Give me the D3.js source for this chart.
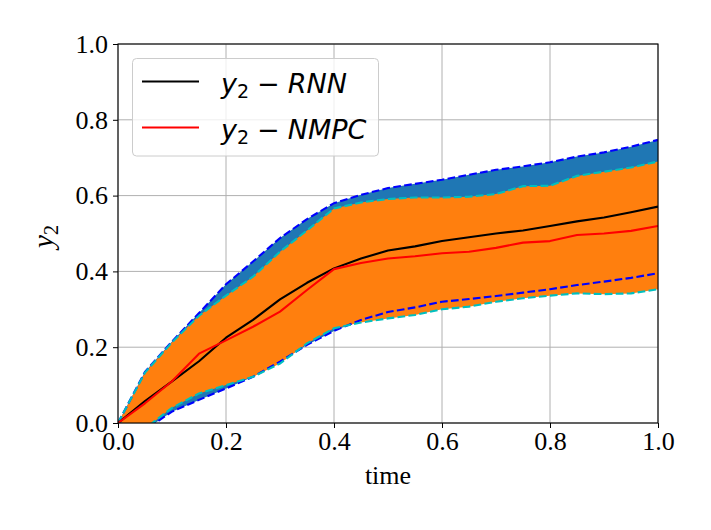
<!DOCTYPE html>
<html>
<head>
<meta charset="utf-8">
<script src="https://cdn.jsdelivr.net/npm/d3@7"></script>
<style>
  html, body { margin: 0; padding: 0; background: #fff; }
  svg { display: block; }
</style>
</head>
<body>
<svg id="chart" width="711" height="530"></svg>
<script>
// ---- data ----
const time = [0.0, 0.05, 0.1, 0.15, 0.2, 0.25, 0.3, 0.35, 0.4, 0.45, 0.5, 0.55, 0.6, 0.65, 0.7, 0.75, 0.8, 0.85, 0.9, 0.95, 1.0];
const rnnMean  = [0.0, 0.058, 0.11, 0.163, 0.225, 0.272, 0.326, 0.37, 0.408, 0.434, 0.455, 0.466, 0.48, 0.49, 0.5, 0.508, 0.52, 0.532, 0.542, 0.556, 0.571];
const nmpcMean = [0.0, 0.052, 0.11, 0.183, 0.218, 0.254, 0.294, 0.351, 0.406, 0.422, 0.434, 0.44, 0.448, 0.452, 0.462, 0.476, 0.48, 0.496, 0.5, 0.507, 0.52];
const rnnUpper  = [0.0, 0.135, 0.215, 0.29, 0.366, 0.426, 0.488, 0.538, 0.58, 0.602, 0.62, 0.631, 0.642, 0.655, 0.668, 0.677, 0.688, 0.703, 0.714, 0.729, 0.747];
const rnnLower  = [0.0, -0.018, 0.03, 0.061, 0.091, 0.122, 0.162, 0.206, 0.243, 0.272, 0.293, 0.305, 0.32, 0.327, 0.335, 0.344, 0.353, 0.364, 0.373, 0.383, 0.395];
const nmpcUpper = [0.0, 0.133, 0.213, 0.283, 0.336, 0.386, 0.452, 0.508, 0.566, 0.582, 0.591, 0.595, 0.595, 0.597, 0.604, 0.625, 0.626, 0.652, 0.663, 0.674, 0.69];
const nmpcLower = [0.0, -0.015, 0.04, 0.078, 0.1, 0.122, 0.157, 0.21, 0.25, 0.265, 0.276, 0.285, 0.3, 0.307, 0.32, 0.329, 0.336, 0.342, 0.34, 0.342, 0.353];
const xTicks = [0.0, 0.2, 0.4, 0.6, 0.8, 1.0];
const yTicks = [0.0, 0.2, 0.4, 0.6, 0.8, 1.0];

// ---- layout ----
const svg = d3.select("#chart");
const m = { left: 118, top: 44, right: 53, bottom: 107 };
const W = 711 - m.left - m.right;   // 540
const H = 530 - m.top - m.bottom;   // 379
const serif = "'Liberation Serif', 'Times New Roman', serif";

const x = d3.scaleLinear().domain([0, 1]).range([0, W]);
const y = d3.scaleLinear().domain([0, 1]).range([H, 0]);

const g = svg.append("g").attr("transform", `translate(${m.left},${m.top})`);

svg.append("defs").append("clipPath").attr("id", "clip")
  .append("rect").attr("x", 0).attr("y", 0).attr("width", W).attr("height", H);

// grid
const grid = g.append("g");
grid.selectAll(".gx").data(xTicks).enter().append("line")
  .attr("x1", d => x(d)).attr("x2", d => x(d)).attr("y1", 0).attr("y2", H)
  .attr("stroke", "#b0b0b0").attr("stroke-width", 1);
grid.selectAll(".gy").data(yTicks).enter().append("line")
  .attr("y1", d => y(d)).attr("y2", d => y(d)).attr("x1", 0).attr("x2", W)
  .attr("stroke", "#b0b0b0").attr("stroke-width", 1);

const plot = g.append("g").attr("clip-path", "url(#clip)");
const idx = d3.range(time.length);

const area = (lo, hi) => d3.area()
  .x(i => x(time[i])).y0(i => y(lo[i])).y1(i => y(hi[i]));
const line = (arr) => d3.line().x(i => x(time[i])).y(i => y(arr[i]));

plot.append("path").attr("d", area(rnnLower, rnnUpper)(idx)).attr("fill", "#1f77b4");
plot.append("path").attr("d", area(nmpcLower, nmpcUpper)(idx)).attr("fill", "#ff7f0e");

[[rnnUpper, "#0000ff"], [rnnLower, "#0000ff"], [nmpcUpper, "#00bfbf"], [nmpcLower, "#00bfbf"]]
  .forEach(([arr, c]) => {
    plot.append("path").attr("d", line(arr)(idx)).attr("fill", "none")
      .attr("stroke", c).attr("stroke-width", 2.1).attr("stroke-dasharray", "7.7,3.3");
  });

plot.append("path").attr("d", line(rnnMean)(idx)).attr("fill", "none")
  .attr("stroke", "#000").attr("stroke-width", 2.1).attr("stroke-linejoin", "round");
plot.append("path").attr("d", line(nmpcMean)(idx)).attr("fill", "none")
  .attr("stroke", "#ff0000").attr("stroke-width", 2.1).attr("stroke-linejoin", "round");

// axes
const xAxis = g.append("g").attr("transform", `translate(0,${H})`)
  .call(d3.axisBottom(x).tickValues(xTicks).tickFormat(d3.format(".1f")).tickSize(5).tickPadding(4));
const yAxis = g.append("g")
  .call(d3.axisLeft(y).tickValues(yTicks).tickFormat(d3.format(".1f")).tickSize(5).tickPadding(5));
[xAxis, yAxis].forEach(a => {
  a.select(".domain").remove();
  a.selectAll("line").attr("stroke", "#000").attr("stroke-width", 1);
  a.selectAll("text").attr("font-family", serif).attr("font-size", 26).attr("fill", "#000");
});

// frame
g.append("rect").attr("x", 0).attr("y", 0).attr("width", W).attr("height", H)
  .attr("fill", "none").attr("stroke", "#000").attr("stroke-width", 1.1);

// axis labels
svg.append("text").attr("x", m.left + W / 2).attr("y", 484)
  .attr("text-anchor", "middle").attr("font-family", serif).attr("font-size", 26)
  .text("time");
const yl = svg.append("text")
  .attr("transform", `translate(53,${m.top + H / 2 + 3}) rotate(-90)`)
  .attr("text-anchor", "middle").attr("font-family", serif).attr("font-size", 29);
yl.append("tspan").attr("font-style", "italic").text("y");
yl.append("tspan").attr("font-size", 20).attr("dy", 5).text("2");

// legend
const lg = svg.append("g");
lg.append("rect").attr("x", 132.5).attr("y", 58.5).attr("width", 246).attr("height", 97.5)
  .attr("rx", 4).attr("fill", "#fff").attr("fill-opacity", 0.8)
  .attr("stroke", "#cccccc").attr("stroke-width", 1);
const legendItems = [
  { name: "RNN", color: "#000", yy: 81.5 },
  { name: "NMPC", color: "#ff0000", yy: 127.5 }
];
const sans = "'DejaVu Sans', sans-serif";
legendItems.forEach(it => {
  lg.append("line").attr("x1", 142).attr("x2", 199).attr("y1", it.yy).attr("y2", it.yy)
    .attr("stroke", it.color).attr("stroke-width", 2.1);
  const t = lg.append("text").attr("x", 221).attr("y", it.yy + 11)
    .attr("font-family", sans).attr("font-size", 27);
  t.append("tspan").attr("font-style", "italic").text("y");
  t.append("tspan").attr("font-size", 19).attr("dy", 5).text("2");
  t.append("tspan").attr("dy", -5).attr("dx", 8).text("\u2212");
  t.append("tspan").attr("dx", 8).attr("font-style", "italic").text(it.name);
});
</script>
</body>
</html>
